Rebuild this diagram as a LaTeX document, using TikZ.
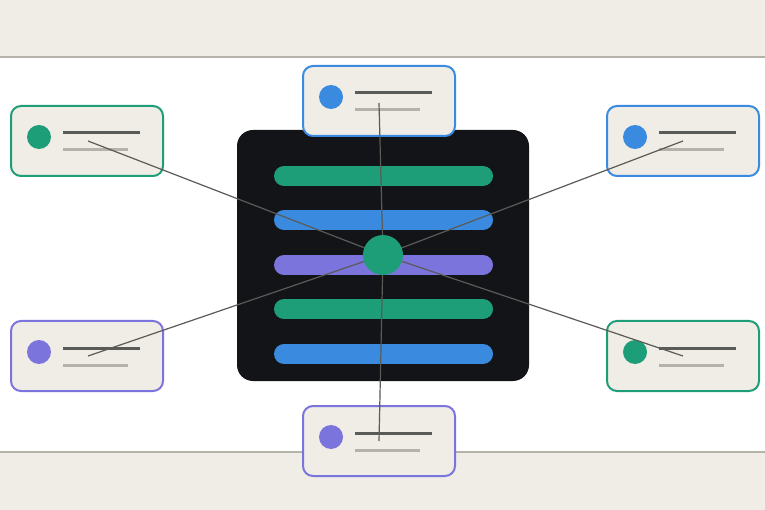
\documentclass[tikz,border=0pt]{standalone}
\begin{document}
\definecolor{beige}{HTML}{F0EDE6}
\definecolor{dark}{HTML}{131418}
\definecolor{cgreen}{HTML}{1E9E78}
\definecolor{cblue}{HTML}{3A8BE0}
\definecolor{cpurple}{HTML}{7B74DD}
\definecolor{ldark}{HTML}{5A5A56}
\definecolor{llight}{HTML}{B5B2AA}
\begin{tikzpicture}[x=1pt,y=-1pt,
  bar/.style={line width=20pt,line cap=round},
  card/.style={draw=#1,line width=2pt,fill=beige,rounded corners=10pt},
  dot/.style={fill=#1},
  conn/.style={draw=ldark,line width=1.2pt}]
\useasboundingbox (0,0) rectangle (765,510);
\fill[beige] (0,0) rectangle (765,510);
\fill[white] (0,57) rectangle (765,452);
\draw[llight,line width=1.5pt] (0,57) -- (765,57) (0,452) -- (765,452);
\fill[dark,rounded corners=16pt] (237,130) rectangle (529,381);
\foreach \y/\c in {176/cgreen,220/cblue,265/cpurple,309/cgreen,354/cblue}
  \draw[bar,\c] (284,\y) -- (483,\y);
\foreach \n/\x/\y/\c in {t/303/66/cblue,tl/11/106/cgreen,tr/607/106/cblue,bl/11/321/cpurple,br/607/321/cgreen,b/303/406/cpurple}{
  \draw[card=\c] (\x,\y) rectangle ++(152,70);
  \fill[\c] (\x+28,\y+31) circle (12);
  \draw[ldark,line width=3pt] (\x+52,\y+27) -- ++(77,0);
  \draw[llight,line width=3pt] (\x+52,\y+44) -- ++(65,0);
}
\coordinate (c) at (383,255);
\coordinate (pt) at (379,103);
\coordinate (ptl) at (88,141);
\coordinate (ptr) at (683,141);
\coordinate (pbl) at (88,356);
\coordinate (pbr) at (683,356);
\coordinate (pb) at (379,441);
\foreach \p in {pt,ptl,ptr,pbl,pbr,pb} \draw[conn] (c) -- (\p);
\node[circle,fill=cgreen,minimum size=40pt,inner sep=0pt] (hub) at (c) {};
\end{tikzpicture}
\end{document}
